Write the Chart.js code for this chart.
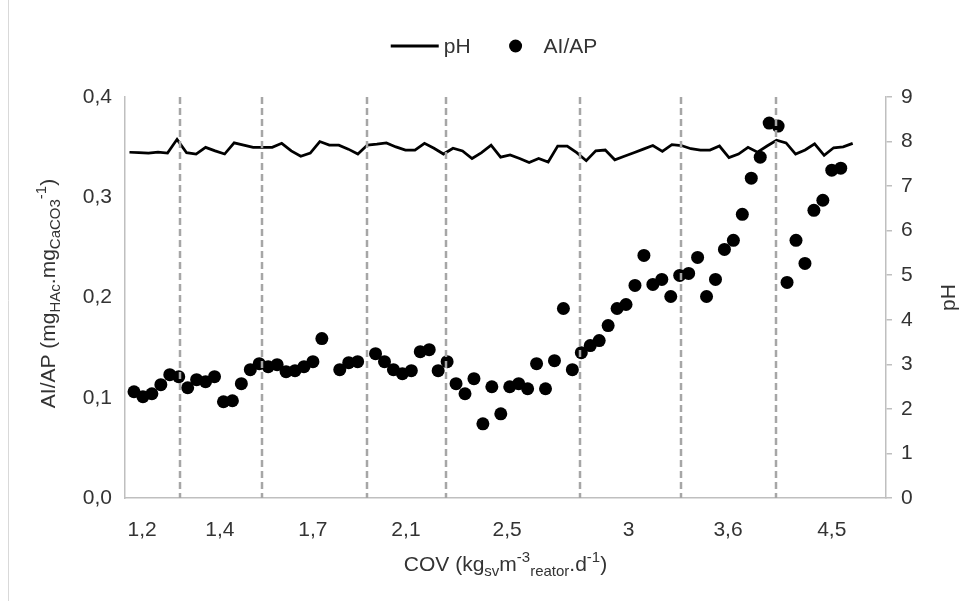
<!DOCTYPE html>
<html>
<head>
<meta charset="utf-8">
<script src="https://cdn.jsdelivr.net/npm/chart.js@4.4.0/dist/chart.umd.min.js"></script>
<style>
    html, body { margin: 0; padding: 0; background: #fff; }
    #grafico { display: block; }
</style>
</head>
<body>
<canvas id="grafico" width="969" height="601"></canvas>
<script>
// Rótulos das faixas de COV e posição (em nº de amostra AI/AP) de cada rótulo e de cada divisória
const rotulosCOV = ['1,2', '1,4', '1,7', '2,1', '2,5', '3', '3,6', '4,5'];
const posicaoRotulos = [0.9, 9.6, 20.0, 30.4, 41.7, 55.3, 66.4, 78.0];
const limitesCOV = [5.1, 14.3, 26.0, 34.9, 49.9, 61.1, 71.8];

// pH diário (linha)
const valoresPH = [
    7.76, 7.75, 7.74, 7.76, 7.74, 8.05, 7.75, 7.72, 7.87, 7.79,
    7.72, 7.97, 7.92, 7.87, 7.87, 7.87, 7.96, 7.79, 7.67, 7.74,
    8.00, 7.92, 7.92, 7.83, 7.72, 7.92, 7.94, 7.97, 7.88, 7.81,
    7.81, 7.96, 7.85, 7.72, 7.85, 7.79, 7.62, 7.75, 7.92, 7.65,
    7.70, 7.62, 7.53, 7.62, 7.54, 7.90, 7.90, 7.75, 7.57, 7.79,
    7.81, 7.59, 7.67, 7.75, 7.83, 7.91, 7.78, 7.93, 7.91, 7.84,
    7.81, 7.81, 7.90, 7.64, 7.72, 7.87, 7.76, 7.90, 8.03, 7.97,
    7.72, 7.81, 7.95, 7.69, 7.86, 7.88, 7.96
];

// Relação AI/AP (pontos); null = sem medição
const valoresAIAP = [
    0.106, 0.101, 0.104, 0.113, 0.123, 0.121, 0.110, 0.118, 0.116, 0.121,
    0.096, 0.097, 0.114, 0.128, 0.134, 0.131, 0.133, 0.126, 0.127, 0.131,
    0.136, 0.159, null, 0.128, 0.135, 0.136, null, 0.144, 0.136, 0.128,
    0.124, 0.127, 0.146, 0.148, 0.127, 0.136, 0.114, 0.104, 0.119, 0.074,
    0.111, 0.084, 0.111, 0.114, 0.109, 0.134, 0.109, 0.137, 0.189, 0.128,
    0.145, 0.152, 0.157, 0.172, 0.189, 0.193, 0.212, 0.242, 0.213, 0.218,
    0.201, 0.222, 0.224, 0.240, 0.201, 0.218, 0.248, 0.257, 0.283, 0.319,
    0.340, 0.374, 0.371, 0.215, 0.257, 0.234, 0.287, 0.297, 0.327, 0.329
];

const fonte = '"Liberation Sans", Arial, sans-serif';
const corTexto = '#333333';
const corEixo = '#bfbfbf';
const tamFonte = 21;

// escreve texto com subscritos/sobrescritos centrado em (cx, cy)
function desenharTexto(ctx, partes, cx, cy, tamanho) {
    const menor = Math.round(tamanho * 0.7);
    let total = 0;
    const larguras = partes.map(p => {
        ctx.font = (p.sub || p.sup ? menor : tamanho) + 'px ' + fonte;
        const w = ctx.measureText(p.t).width;
        total += w;
        return w;
    });
    let x = cx - total / 2;
    ctx.textAlign = 'left';
    ctx.textBaseline = 'alphabetic';
    ctx.fillStyle = corTexto;
    partes.forEach((p, i) => {
        ctx.font = (p.sub || p.sup ? menor : tamanho) + 'px ' + fonte;
        const dy = p.sub ? tamanho * 0.28 : (p.sup ? -tamanho * 0.4 : 0);
        ctx.fillText(p.t, x, cy + tamanho * 0.36 + dy);
        x += larguras[i];
    });
}

const pluginDecoracao = {
    id: 'decoracao',
    afterDatasetsDraw(chart) {
        const ctx = chart.ctx;
        const area = chart.chartArea;
        const eixoX = chart.scales.x;
        ctx.save();
        ctx.strokeStyle = '#a6a6a6';
        ctx.lineWidth = 2.5;
        ctx.setLineDash([7, 4]);
        limitesCOV.forEach(v => {
            const px = Math.round(eixoX.getPixelForValue(v));
            ctx.beginPath();
            ctx.moveTo(px, area.top);
            ctx.lineTo(px, area.bottom);
            ctx.stroke();
        });
        ctx.restore();
    },
    afterDraw(chart) {
        const ctx = chart.ctx;
        const area = chart.chartArea;
        ctx.save();

        // moldura à esquerda
        ctx.strokeStyle = '#d9d9d9';
        ctx.lineWidth = 1;
        ctx.beginPath();
        ctx.moveTo(8.5, 0);
        ctx.lineTo(8.5, 601);
        ctx.stroke();

        // títulos dos eixos
        const meioY = (area.top + area.bottom) / 2;
        desenharTexto(ctx, [
            { t: 'COV (kg' }, { t: 'sv', sub: true }, { t: 'm' }, { t: '-3', sup: true },
            { t: 'reator', sub: true }, { t: '.d' }, { t: '-1', sup: true }, { t: ')' }
        ], (area.left + area.right) / 2, 563, tamFonte);

        ctx.save();
        ctx.translate(47, meioY - 4);
        ctx.rotate(-Math.PI / 2);
        desenharTexto(ctx, [
            { t: 'AI/AP (mg' }, { t: 'HAc', sub: true }, { t: '.mg' }, { t: 'CaCO3', sub: true },
            { t: '-1', sup: true }, { t: ')' }
        ], 0, 0, tamFonte);
        ctx.restore();

        ctx.save();
        ctx.translate(947, meioY);
        ctx.rotate(-Math.PI / 2);
        desenharTexto(ctx, [{ t: 'pH' }], 0, 0, tamFonte);
        ctx.restore();

        // legenda
        const conjuntos = chart.data.datasets;
        ctx.font = tamFonte + 'px ' + fonte;
        const wPH = ctx.measureText(conjuntos[0].label).width;
        const wAI = ctx.measureText(conjuntos[1].label).width;
        const larguraTotal = 48 + 5 + wPH + 39 + 12 + 22 + wAI;
        let x = 494 - larguraTotal / 2;
        const yLeg = 46;
        ctx.strokeStyle = '#000';
        ctx.lineWidth = 3;
        ctx.beginPath();
        ctx.moveTo(x, yLeg);
        ctx.lineTo(x + 48, yLeg);
        ctx.stroke();
        x += 53;
        ctx.fillStyle = corTexto;
        ctx.textBaseline = 'middle';
        ctx.textAlign = 'left';
        ctx.fillText(conjuntos[0].label, x, yLeg + 1);
        x += wPH + 39 + 6;
        ctx.fillStyle = '#000';
        ctx.beginPath();
        ctx.arc(x, yLeg, 6.5, 0, Math.PI * 2);
        ctx.fill();
        x += 6 + 22;
        ctx.fillStyle = corTexto;
        ctx.fillText(conjuntos[1].label, x, yLeg + 1);

        ctx.restore();
    }
};

const canvas = document.getElementById('grafico');
const grafico = new Chart(canvas, {
    type: 'scatter',
    data: {
        datasets: [{
            type: 'line',
            label: 'pH',
            data: valoresPH.map((v, i) => ({ x: i, y: v })),
            xAxisID: 'xPh',
            yAxisID: 'yPh',
            borderColor: '#000',
            borderWidth: 2.75,
            pointRadius: 0,
            tension: 0,
            fill: false
        }, {
            label: 'AI/AP',
            data: valoresAIAP.map((v, i) => ({ x: i, y: v })),
            xAxisID: 'x',
            yAxisID: 'y',
            backgroundColor: '#000',
            borderWidth: 0,
            pointRadius: 6.5,
            pointHoverRadius: 6.5
        }]
    },
    options: {
        responsive: false,
        animation: false,
        devicePixelRatio: 1,
        layout: { padding: { top: 97, left: 0, right: 0, bottom: 0 } },
        plugins: { legend: { display: false }, tooltip: { enabled: false } },
        scales: {
            x: {
                type: 'linear',
                position: 'bottom',
                min: -1.006,
                max: 84.06,
                afterBuildTicks: axis => { axis.ticks = posicaoRotulos.map(v => ({ value: v })); },
                afterFit: axis => { axis.height = 601 - 498; },
                grid: { display: false, drawTicks: false },
                border: { color: corEixo, width: 1.5 },
                ticks: {
                    autoSkip: false,
                    maxRotation: 0,
                    minRotation: 0,
                    padding: 20,
                    color: corTexto,
                    font: { family: fonte, size: tamFonte },
                    callback: (valor, indice) => rotulosCOV[indice]
                }
            },
            xPh: {
                type: 'linear',
                display: false,
                min: -0.47,
                max: 79.5
            },
            y: {
                position: 'left',
                min: 0,
                max: 0.4,
                afterFit: axis => { axis.width = 125; },
                grid: { display: false, drawTicks: false },
                border: { color: corEixo, width: 1.5 },
                ticks: {
                    stepSize: 0.1,
                    padding: 13,
                    color: corTexto,
                    font: { family: fonte, size: tamFonte },
                    callback: v => v.toFixed(1).replace('.', ',')
                }
            },
            yPh: {
                position: 'right',
                min: 0,
                max: 9,
                afterFit: axis => { axis.width = 969 - 886; },
                grid: {
                    display: true,
                    drawOnChartArea: false,
                    drawTicks: true,
                    tickLength: 6,
                    color: corEixo,
                    lineWidth: 1.5
                },
                border: { color: corEixo, width: 1.5 },
                ticks: {
                    stepSize: 1,
                    padding: 9,
                    color: corTexto,
                    font: { family: fonte, size: tamFonte },
                    callback: v => String(v)
                }
            }
        }
    },
    plugins: [pluginDecoracao]
});
</script>
</body>
</html>
